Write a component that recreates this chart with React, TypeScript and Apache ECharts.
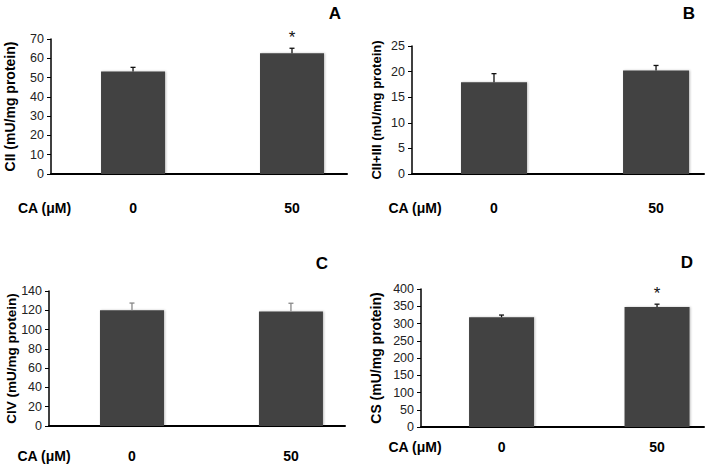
import React, { useEffect, useRef } from "react";
import * as echarts from "echarts";

// ---- data ----
const categories = ["0", "50"];
const xAxisTitle = "CA (μM)";

const cII = [53.2, 62.6];
const cIIErr = [2.1, 2.6];
const cIIsig = [false, true];

const cIIIII = [17.9, 20.2];
const cIIIIIErr = [1.7, 1.0];
const cIIIIIsig = [false, false];

const cIV = [120, 118.8];
const cIVErr = [7.5, 8.5];
const cIVsig = [false, false];

const cs = [318, 348];
const csErr = [6.5, 8];
const csSig = [false, true];

const yTitles = ["CII (mU/mg protein)", "CII+III (mU/mg protein)", "CIV (mU/mg protein)", "CS (mU/mg protein)"];
const panelLetters = ["A", "B", "C", "D"];
const yMax = [70, 25, 140, 400];
const yInterval = [10, 5, 20, 50];

// ---- layout (positions / styles only) ----
const layout = [
  { left: 51, top: 39, width: 296, height: 135, xMin: -0.516, xMax: 1.346, barW: 64, labelMargin: 27, titleX: 10, titleFont: 14, errColor: "#111", letterX: 335, letterY: 13, caX: 44.5, caY: 208 },
  { left: 412, top: 46, width: 292, height: 128, xMin: -0.506, xMax: 1.296, barW: 66, labelMargin: 27, titleX: 376, titleFont: 13, errColor: "#111", letterX: 689, letterY: 13, caX: 415, caY: 208 },
  { left: 49, top: 291, width: 296, height: 135, xMin: -0.522, xMax: 1.34, barW: 64, labelMargin: 23, titleX: 11, titleFont: 13.5, errColor: "#888", letterX: 322, letterY: 263, caX: 44, caY: 456 },
  { left: 421, top: 289, width: 283, height: 138, xMin: -0.518, xMax: 1.302, barW: 65, labelMargin: 13, titleX: 376, titleFont: 14, errColor: "#111", letterX: 687, letterY: 262, caX: 415, caY: 447 },
];

const FONT = "'Liberation Sans', Arial, Helvetica, sans-serif";

const values = [cII, cIIIII, cIV, cs];
const errors = [cIIErr, cIIIIIErr, cIVErr, csErr];
const sigs = [cIIsig, cIIIIIsig, cIVsig, csSig];

export default function App() {
  const ref = useRef<HTMLDivElement>(null);

  useEffect(() => {
    if (!ref.current) return;
    const chart = echarts.init(ref.current, null, { renderer: "svg" });

    const grid = layout.map((l) => ({ left: l.left, top: l.top, width: l.width, height: l.height }));

    const xAxis = layout.map((l, i) => ({
      type: "value",
      gridIndex: i,
      min: l.xMin,
      max: l.xMax,
      splitLine: { show: false },
      axisLine: { show: true, onZero: false, lineStyle: { color: "#000", width: 2 } },
      axisTick: { show: false },
      axisLabel: {
        customValues: [0, 1],
        formatter: (v: number) => categories[Math.round(v)] ?? "",
        margin: l.labelMargin,
        fontSize: 14,
        fontWeight: "bold",
        color: "#000",
        fontFamily: FONT,
      },
    }));

    const yAxis = layout.map((l, i) => ({
      type: "value",
      gridIndex: i,
      min: 0,
      max: yMax[i],
      interval: yInterval[i],
      splitLine: { show: false },
      axisLine: { show: true, onZero: false, lineStyle: { color: "#000", width: 1.5 } },
      axisTick: { show: true, length: 4, lineStyle: { color: "#000", width: 1 } },
      axisLabel: { fontSize: 12.5, color: "#222", margin: 7, fontFamily: FONT },
    }));

    const series: any[] = [];
    layout.forEach((l, i) => {
      series.push({
        type: "bar",
        xAxisIndex: i,
        yAxisIndex: i,
        barWidth: l.barW,
        data: values[i].map((v, k) => [k, v]),
        itemStyle: {
          color: "#424242",
          shadowColor: "rgba(0,0,0,0.25)",
          shadowBlur: 2,
          shadowOffsetX: 1,
          shadowOffsetY: 0,
        },
      });
      series.push({
        type: "custom",
        xAxisIndex: i,
        yAxisIndex: i,
        z: 5,
        data: values[i].map((v, k) => [k, v + errors[i][k]]),
        encode: { x: 0, y: 1 },
        renderItem: (params: any, api: any) => {
          const k = params.dataIndex;
          const v = values[i][k];
          const e = errors[i][k];
          const base = api.coord([k, v]);
          const top = api.coord([k, v + e]);
          const children: any[] = [
            { type: "line", shape: { x1: base[0], y1: base[1], x2: top[0], y2: top[1] }, style: { stroke: l.errColor, lineWidth: 1.3 } },
            { type: "line", shape: { x1: top[0] - 2.5, y1: top[1], x2: top[0] + 2.5, y2: top[1] }, style: { stroke: l.errColor, lineWidth: 1.3 } },
          ];
          if (sigs[i][k]) {
            children.push({
              type: "text",
              style: { text: "*", x: top[0], y: top[1] - 11, align: "center", verticalAlign: "middle", fontSize: 17, fontFamily: FONT, fill: "#111" },
            });
          }
          return { type: "group", children };
        },
      });
    });

    const graphic: any[] = [];
    layout.forEach((l, i) => {
      graphic.push({
        type: "text",
        x: l.titleX,
        y: l.top + l.height / 2,
        rotation: Math.PI / 2,
        style: { text: yTitles[i], align: "center", verticalAlign: "middle", fontSize: l.titleFont, fontWeight: "bold", fontFamily: FONT, fill: "#000" },
      });
      graphic.push({
        type: "text",
        x: l.letterX,
        y: l.letterY,
        style: { text: panelLetters[i], align: "center", verticalAlign: "middle", fontSize: 17, fontWeight: "bold", fontFamily: FONT, fill: "#000" },
      });
      graphic.push({
        type: "text",
        x: l.caX,
        y: l.caY,
        style: { text: xAxisTitle, align: "center", verticalAlign: "middle", fontSize: 14, fontWeight: "bold", fontFamily: FONT, fill: "#000" },
      });
    });

    chart.setOption({
      animation: false,
      backgroundColor: "#fff",
      grid,
      xAxis,
      yAxis,
      series,
      graphic,
    });

    return () => chart.dispose();
  }, []);

  return <div ref={ref} style={{ position: "fixed", left: 0, top: 0, width: 708, height: 468 }} />;
}
